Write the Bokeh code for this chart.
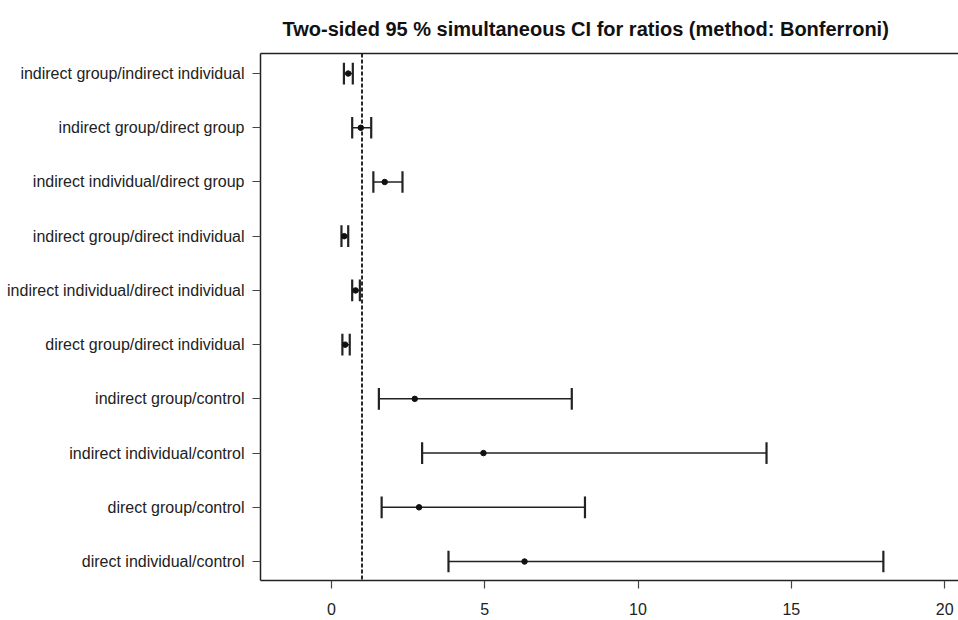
from bokeh.plotting import figure
from bokeh.models import FixedTicker, LinearAxis, Span, Range1d, ColumnDataSource
from bokeh.embed import file_html
from bokeh.resources import INLINE

labels = [
    "indirect group/indirect individual",
    "indirect group/direct group",
    "indirect individual/direct group",
    "indirect group/direct individual",
    "indirect individual/direct individual",
    "direct group/direct individual",
    "indirect group/control",
    "indirect individual/control",
    "direct group/control",
    "direct individual/control",
]
estimate = [0.55, 0.96, 1.74, 0.42, 0.79, 0.45, 2.72, 4.96, 2.86, 6.30]
lower = [0.41, 0.68, 1.37, 0.33, 0.68, 0.36, 1.55, 2.96, 1.64, 3.82]
upper = [0.70, 1.30, 2.32, 0.55, 0.93, 0.60, 7.84, 14.19, 8.27, 18.00]
x_ticks = [0, 5, 10, 15, 20]
reference_value = 1

n = len(labels)
pos = [n - i for i in range(n)]
cap = 0.2
src = ColumnDataSource(dict(
    y=pos, est=estimate, lo=lower, hi=upper,
    ylo=[v - cap for v in pos], yhi=[v + cap for v in pos],
))

FONT = "Liberation Sans"

p = figure(width=958, height=620, output_backend="svg", toolbar_location=None,
           x_range=Range1d(-2.31, 20.45), y_range=Range1d(0.65, 10.37),
           min_border_left=260, min_border_right=0, min_border_top=53, min_border_bottom=40,
           title="Two-sided  95 % simultaneous  CI for ratios  (method: Bonferroni)")
p.outline_line_color = None
p.background_fill_color = "white"
p.border_fill_color = "white"
p.xgrid.visible = False
p.ygrid.visible = False

p.title.text_font = FONT
p.title.text_font_size = "20px"
p.title.text_font_style = "bold"
p.title.text_color = "#111111"
p.title.align = "left"
p.title.offset = 22
p.title.standoff = 27

# axes
xa = p.xaxis[0]
xa.ticker = FixedTicker(ticks=x_ticks)
ya = p.yaxis[0]
ya.ticker = FixedTicker(ticks=pos)
ya.major_label_overrides = {v: lab for v, lab in zip(pos, labels)}
for ax in (xa, ya):
    ax.axis_line_color = "#222222"
    ax.axis_line_width = 1.5
    ax.major_tick_line_color = "#444444"
    ax.major_tick_line_width = 1.2
    ax.major_tick_out = 8
    ax.major_tick_in = 0
    ax.minor_tick_line_color = None
    ax.major_label_text_font = FONT
    ax.major_label_text_font_size = "16px"
    ax.major_label_text_color = "#222222"
xa.major_label_standoff = 14
ya.major_label_standoff = 8

top = LinearAxis(ticker=FixedTicker(ticks=[]), major_label_text_font_size="0px",
                 major_tick_line_color=None, minor_tick_line_color=None,
                 axis_line_color="#222222", axis_line_width=1.5)
p.add_layout(top, "above")

p.add_layout(Span(location=reference_value, dimension="height", line_color="#111111",
                  line_width=1.8, line_dash="4 2"))

p.segment(x0="lo", y0="y", x1="hi", y1="y", source=src, line_color="#222222", line_width=1.5)
p.segment(x0="lo", y0="ylo", x1="lo", y1="yhi", source=src, line_color="#222222", line_width=2.2)
p.segment(x0="hi", y0="ylo", x1="hi", y1="yhi", source=src, line_color="#222222", line_width=2.2)
p.scatter(x="est", y="y", source=src, size=5.5, color="#111111")

open("out.html", "w").write(file_html(p, INLINE))
